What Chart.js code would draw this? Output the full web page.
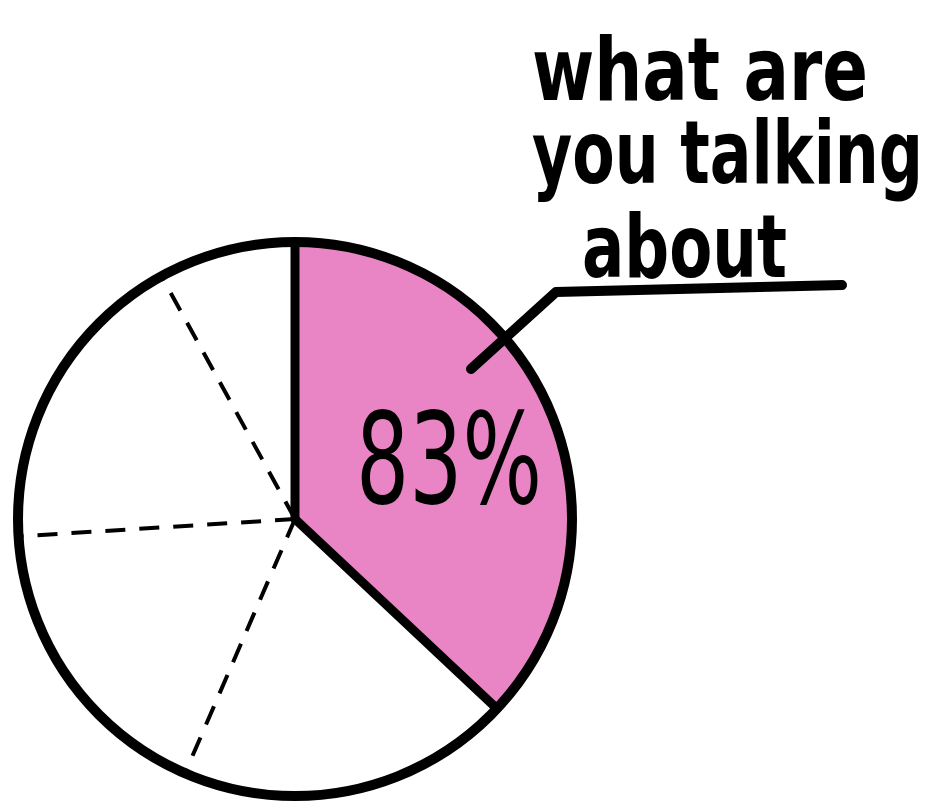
<!DOCTYPE html>
<html>
<head>
<meta charset="utf-8">
<script src="https://cdn.jsdelivr.net/npm/chart.js@4.4.1/dist/chart.umd.min.js"></script>
<style>
  html, body { margin: 0; padding: 0; background: #ffffff; }
  #wrap { width: 932px; height: 810px; position: relative; }
</style>
</head>
<body>
<div id="wrap"><canvas id="c"></canvas></div>
<script>
// ---- data ----
const categories = ['what are you talking about', 'other A', 'other B', 'other C', 'other D'];
const sliceValues = [37, 19.5, 17.5, 18, 8];
const sliceColors = ['#E985C4', '#ffffff', '#ffffff', '#ffffff', '#ffffff'];
const sliceLabel = '83%';
const annotationLines = ['what are', 'you talking', 'about'];

function fitText(ctx, text, x, baseline, width, font) {
  ctx.save();
  ctx.font = font;
  const w = ctx.measureText(text).width;
  ctx.translate(x, baseline);
  ctx.scale(width / w, 1);
  ctx.textBaseline = 'alphabetic';
  ctx.textAlign = 'left';
  ctx.fillStyle = '#000000';
  ctx.fillText(text, 0, 0);
  ctx.restore();
}

const sketchPlugin = {
  id: 'sketch',
  afterDatasetsDraw(chart) {
    const ctx = chart.ctx;
    const arcs = chart.getDatasetMeta(0).data;
    if (!arcs.length) return;
    const cx = arcs[0].x, cy = arcs[0].y, r = arcs[0].outerRadius;
    ctx.save();
    ctx.lineCap = 'round';
    ctx.lineJoin = 'round';
    ctx.strokeStyle = '#000000';
    // spokes
    arcs.forEach((arc, i) => {
      const a = arc.startAngle;
      const solid = (i === 0 || i === 1);
      ctx.beginPath();
      ctx.lineWidth = solid ? 9 : 4;
      ctx.setLineDash(solid ? [] : [20, 14]);
      ctx.lineCap = solid ? 'round' : 'butt';
      ctx.moveTo(cx, cy);
      ctx.lineTo(cx + Math.cos(a) * r, cy + Math.sin(a) * r);
      ctx.stroke();
    });
    // outline
    ctx.setLineDash([]);
    ctx.lineWidth = 10;
    ctx.beginPath();
    ctx.arc(cx, cy, r, 0, Math.PI * 2);
    ctx.stroke();

    // leader + underline
    ctx.lineCap = 'round';
    ctx.lineWidth = 10;
    ctx.beginPath();
    ctx.moveTo(842, 285);
    ctx.lineTo(556, 292);
    ctx.lineTo(471, 369);
    ctx.stroke();
    ctx.restore();

    // slice label
    fitText(ctx, sliceLabel, 356, 503, 186, '126px "DejaVu Sans"');
    // annotation
    const af = 'bold 88px "DejaVu Sans"';
    fitText(ctx, annotationLines[0], 532, 100, 336, af);
    fitText(ctx, annotationLines[1], 532, 183, 391, af);
    fitText(ctx, annotationLines[2], 582, 277, 205, af);
  }
};

new Chart(document.getElementById('c'), {
  type: 'pie',
  data: {
    labels: categories,
    datasets: [{
      data: sliceValues,
      backgroundColor: sliceColors,
      borderWidth: 0
    }]
  },
  options: {
    responsive: true,
    maintainAspectRatio: false,
    animation: false,
    layout: { padding: { left: 18, right: 360, top: 242, bottom: 14 } },
    plugins: { legend: { display: false }, tooltip: { enabled: false } }
  },
  plugins: [sketchPlugin]
});
</script>
</body>
</html>
